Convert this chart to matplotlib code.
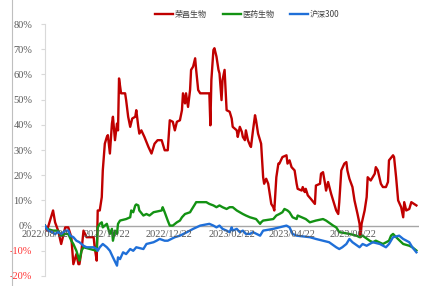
import pandas as pd
import matplotlib
matplotlib.use("Agg")
import matplotlib.pyplot as plt
import matplotlib.dates as mdates
from matplotlib.lines import Line2D
from matplotlib.ticker import FuncFormatter

plt.rcParams['font.family'] = ['Liberation Serif', 'Noto Sans CJK SC', 'DejaVu Sans']

# start date of the series, x values are days after it
start = pd.Timestamp("2022-08-22")

# 荣昌生物 (%)
red_days = [0, 2, 8, 10, 13, 16, 20, 23, 26, 28, 31, 33, 34, 36, 38, 41, 48, 49, 51, 52,
            54, 56, 57, 58, 59, 61, 62, 64, 66, 67, 69, 71, 72, 73, 75, 79, 80, 82, 84, 86,
            89, 90, 92, 93, 95, 98, 102, 105, 108, 111, 115, 118, 121, 123, 126, 128, 130, 133, 135, 136,
            138, 139, 141, 143, 144, 146, 148, 149, 151, 153, 156, 159, 162, 163, 164, 166, 167, 169, 171, 172,
            174, 175, 177, 179, 182, 184, 185, 189, 190, 192, 194, 195, 197, 198, 200, 202, 203, 205, 207, 208,
            210, 212, 213, 215, 216, 218, 220, 221, 223, 225, 226, 228, 230, 231, 234, 238, 239, 241, 243, 246,
            248, 249, 253, 254, 256, 257, 259, 262, 266, 267, 271, 272, 274, 276, 277, 279, 282, 284, 287, 289,
            290, 292, 295, 297, 298, 300, 303, 305, 308, 310, 311, 312, 315, 317, 318, 321, 325, 326, 328, 331,
            333, 336, 338, 339, 343, 344, 346, 348, 351, 353, 354, 356, 359, 361, 366]
red_vals = [0, -2.0, 6.0, 1.3, -2.0, -7.3, -0.7, -0.7, -4.6, -15.3, -11.3, -15.3, -15.3, -10.0, -2.0, -4.6, -4.6, -8.6, -13.9, 6.0,
            6.0, 11.3, 21.9, 27.2, 32.5, 35.2, 35.9, 28.6, 40.5, 43.2, 33.9, 40.5, 37.8, 58.4, 52.5, 52.5, 49.8, 43.2, 39.2, 42.5,
            43.2, 45.8, 39.2, 36.5, 37.8, 35.2, 31.2, 28.6, 32.5, 33.9, 33.9, 29.9, 29.9, 41.8, 41.2, 37.8, 41.2, 41.8, 45.8, 52.5,
            48.5, 52.5, 47.1, 53.8, 61.8, 63.1, 66.4, 61.8, 53.8, 52.5, 52.5, 52.5, 52.5, 39.8, 57.8, 69.7, 70.4, 67.1, 61.8, 60.4,
            49.8, 57.8, 61.8, 45.8, 45.2, 42.5, 39.2, 37.8, 35.2, 39.2, 37.2, 35.2, 33.9, 37.8, 33.9, 31.9, 31.2, 37.8, 43.8, 41.8,
            36.5, 33.9, 32.5, 19.2, 16.6, 18.6, 16.6, 13.9, 8.6, 7.3, 6.0, 19.2, 24.6, 24.6, 27.2, 27.9, 24.6, 25.9, 23.2, 21.9,
            16.6, 14.6, 13.9, 15.3, 13.3, 14.6, 12.0, 10.6, 8.6, 15.9, 16.6, 20.6, 21.2, 16.6, 13.9, 17.3, 12.6, 10.0, 6.0, 4.6,
            9.3, 21.9, 24.6, 25.2, 21.9, 18.6, 15.3, 10.0, 4.6, 0.7, -4.6, 0.7, 6.0, 11.3, 19.2, 17.9, 20.6, 23.2, 21.9, 16.6,
            15.3, 15.3, 17.3, 25.9, 27.9, 27.2, 19.2, 10.0, 7.3, 3.3, 9.3, 6.0, 6.6, 9.3, 8.0]

# 医药生物 (%)
green_days = [0, 2, 8, 13, 16, 20, 23, 26, 28, 31, 33, 34, 36, 38, 51, 52, 54, 56, 57, 61,
              62, 64, 66, 67, 69, 71, 72, 74, 80, 84, 85, 87, 89, 90, 92, 93, 97, 100, 103, 107,
              115, 116, 118, 121, 123, 126, 130, 133, 135, 138, 143, 144, 146, 148, 149, 159, 162, 166, 169, 172,
              175, 179, 182, 185, 189, 192, 195, 198, 202, 208, 212, 213, 215, 225, 228, 231, 234, 236, 239, 241,
              244, 248, 249, 253, 257, 261, 267, 274, 277, 284, 287, 290, 300, 307, 310, 313, 320, 323, 326, 333,
              339, 341, 343, 346, 353, 359, 362, 366]
green_vals = [0, -1.3, -2.0, -2.0, -4.0, -3.3, -3.3, -6.0, -7.3, -10.0, -12.6, -13.9, -10.0, -8.6, -10.0, -0.7, 0.7, 1.3, -0.7, 0.7,
              -0.7, -3.3, -1.3, -6.0, -2.0, -3.3, 0.7, 2.0, 2.6, 3.3, 6.0, 5.3, 8.0, 8.4, 8.0, 6.0, 4.0, 4.6, 4.0, 5.3,
              6.0, 7.3, 5.3, 2.0, 0, 0, 1.3, 2.0, 3.3, 4.6, 5.3, 6.0, 7.3, 8.6, 9.3, 9.3, 8.6, 8.0, 7.3, 8.0,
              7.3, 6.6, 7.3, 7.3, 6.0, 5.3, 4.6, 4.0, 3.3, 2.6, 0.7, 1.3, 2.0, 2.6, 4.0, 4.6, 5.3, 6.6, 6.0, 5.3,
              3.3, 2.6, 4.0, 3.3, 2.6, 1.3, 2.0, 2.6, 2.0, 0, -0.7, -2.6, -3.3, -4.0, -4.6, -4.0, -6.0, -6.6, -6.0, -7.3,
              -6.0, -4.0, -3.3, -4.6, -7.3, -8.0, -8.6, -9.9]

# 沪深300 (%)
blue_days = [0, 3, 7, 10, 13, 16, 20, 23, 25, 28, 31, 34, 38, 41, 48, 51, 52, 54, 57, 61,
             64, 67, 71, 72, 74, 77, 80, 84, 87, 90, 97, 100, 107, 110, 113, 118, 121, 128, 133, 140,
             146, 153, 162, 166, 169, 172, 175, 179, 182, 184, 185, 189, 192, 195, 198, 202, 205, 212, 215, 225,
             231, 238, 241, 244, 248, 261, 267, 274, 280, 287, 290, 293, 297, 300, 303, 310, 313, 317, 323, 330,
             336, 339, 343, 349, 353, 359, 362, 366]
blue_vals = [0, -2.0, -2.6, -3.3, -2.6, -3.3, -2.0, -2.0, -4.0, -4.6, -6.0, -6.6, -8.0, -8.6, -8.6, -9.3, -10.0, -8.6, -7.3, -8.6,
             -10.0, -12.6, -15.9, -12.6, -13.3, -10.6, -11.3, -9.3, -10.0, -8.6, -9.3, -7.3, -6.6, -6.0, -5.3, -6.0, -6.0, -4.6, -4.0, -2.6,
             -1.3, 0, 0.7, 0, -0.7, 0, -1.3, -2.0, -2.6, -0.7, -2.0, -1.3, -2.6, -2.0, -3.3, -3.3, -2.6, -4.0, -2.0, -1.3,
             -0.7, 0, -0.7, -3.3, -4.0, -4.6, -5.3, -6.0, -6.6, -8.6, -9.3, -8.6, -7.3, -5.3, -6.6, -8.6, -7.3, -8.0, -6.6, -7.3,
             -8.6, -7.3, -4.6, -4.0, -5.3, -6.6, -8.6, -10.6]

tick_dates = ["2022-08-22", "2022-10-22", "2022-12-22", "2023-02-22", "2023-04-22", "2023-06-22"]
names = ["荣昌生物", "医药生物", "沪深300"]
colors = ["#c00000", "#139213", "#1f6fd8"]


def to_dates(days):
    return start + pd.to_timedelta(days, unit="D")


fig = plt.figure(figsize=(4.28, 2.86), dpi=100)
ax = fig.add_axes([0.105, 0.035, 0.875, 0.881])

series = [(red_days, red_vals), (green_days, green_vals), (blue_days, blue_vals)]
for (d, v), name, c in zip(series, names, colors):
    ax.plot(to_dates(d), v, color=c, lw=1.7, label=name, zorder=3)

ax.set_ylim(-20, 80)
ax.set_xlim(start, start + pd.Timedelta(days=369))
ax.set_yticks(range(-20, 81, 10))
ax.yaxis.set_major_formatter(FuncFormatter(lambda v, p: f"{v:.0f}%"))

for s in ["top", "right", "bottom"]:
    ax.spines[s].set_visible(False)
ax.spines["left"].set_color("#d9d9d9")
ax.spines["left"].set_linewidth(0.8)
ax.tick_params(axis="y", length=3, color="#d9d9d9", labelsize=7.5,
               labelcolor="#595959", pad=6)
for lab, val in zip(ax.get_yticklabels(), ax.get_yticks()):
    if val < 0:
        lab.set_color("#ff3030")

# zero line acts as category axis
ax.axhline(0, color="#a6a6a6", lw=1.0, zorder=2)

# date labels drawn just under the zero line
ax.set_xticks([])
for t in tick_dates:
    ts = pd.Timestamp(t)
    ax.text(mdates.date2num(ts), -1.8, ts.strftime("%Y/%m/%d"), ha="center", va="top",
            fontsize=7.5, color="#595959", zorder=4)

leg = fig.legend(loc="center", bbox_to_anchor=(0.578, 0.95), ncol=3, frameon=False,
                 handlelength=2.2, handletextpad=0.2, columnspacing=2.0,
                 prop={"family": ["Noto Sans CJK SC", "DejaVu Sans"], "size": 5.8})
for txt in leg.get_texts():
    txt.set_color("#404040")

# thin frame line on the left edge of the picture
fig.add_artist(Line2D([12 / 428, 12 / 428], [0, 1], color="#bfbfbf", lw=0.8))

fig.savefig("out.png", dpi=100)
